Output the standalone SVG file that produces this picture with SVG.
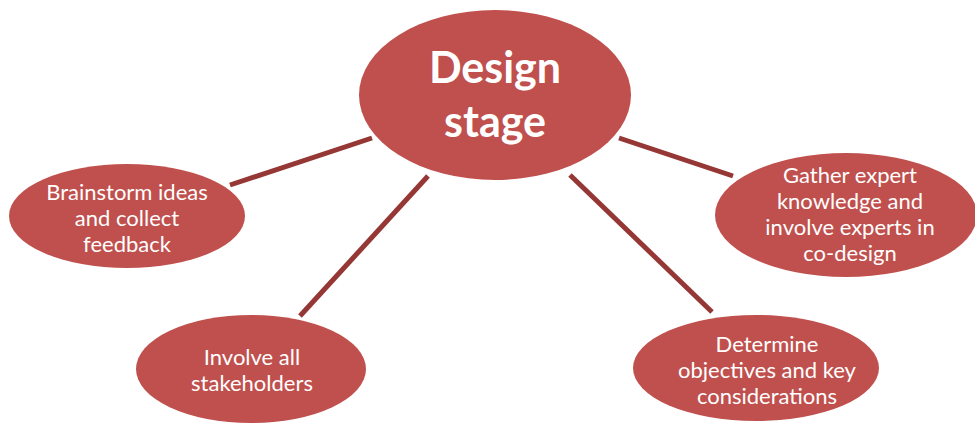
<svg xmlns="http://www.w3.org/2000/svg" width="975" height="423" viewBox="0 0 975 423">
<style>
.node{fill:#C0504D;}
.t{font-family:Lato,"Open Sans","Liberation Sans",sans-serif;fill:#FFFFFF;text-anchor:middle;font-size:22px;}
.big{font-size:43px;font-weight:bold;}
.conn line{stroke:#953735;stroke-width:5;}
</style>
<rect width="975" height="423" fill="#FFFFFF"/>
<g id="connectors" class="conn">
<line x1="230" y1="185" x2="372" y2="138"/>
<line x1="300" y1="316" x2="428" y2="176"/>
<line x1="570" y1="175" x2="712" y2="312"/>
<line x1="619" y1="138" x2="733" y2="176"/>
</g>
<g id="design-stage">
<ellipse class="node" cx="495" cy="95" rx="136" ry="85"/>
<text class="t big" x="495" y="83">Design</text>
<text class="t big" x="495" y="137">stage</text>
</g>
<g id="brainstorm">
<ellipse class="node" cx="127" cy="216" rx="118" ry="52"/>
<text class="t" x="127" y="200">Brainstorm ideas</text>
<text class="t" x="127" y="226">and collect</text>
<text class="t" x="127" y="252">feedback</text>
</g>
<g id="gather">
<ellipse class="node" cx="846" cy="215" rx="131" ry="62"/>
<text class="t" x="850" y="183">Gather expert</text>
<text class="t" x="850" y="209">knowledge and</text>
<text class="t" x="850" y="235">involve experts in</text>
<text class="t" x="850" y="261">co-design</text>
</g>
<g id="involve">
<ellipse class="node" cx="251" cy="369" rx="115" ry="54"/>
<text class="t" x="252" y="365">Involve all</text>
<text class="t" x="252" y="391">stakeholders</text>
</g>
<g id="determine">
<ellipse class="node" cx="756" cy="368" rx="123" ry="53"/>
<text class="t" x="767" y="352">Determine</text>
<text class="t" x="767" y="378">objectives and key</text>
<text class="t" x="767" y="404">considerations</text>
</g>
</svg>
